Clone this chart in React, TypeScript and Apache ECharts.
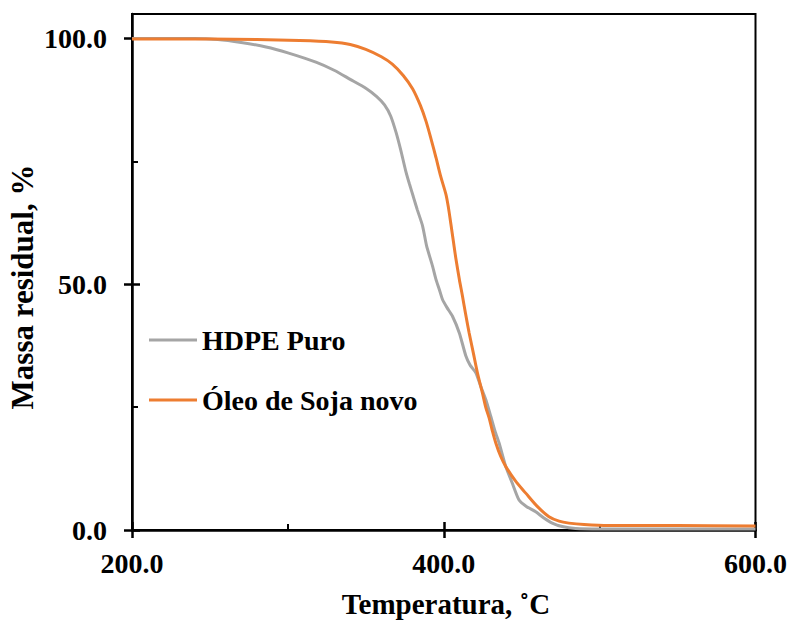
import React, { useEffect, useRef } from "react";
import * as echarts from "echarts";

const hdpeT = [200, 220, 240, 255, 270, 286, 300, 318, 330, 340, 350, 357, 362, 366, 369.5, 372.5, 375.5, 378, 380.5, 383, 386.4, 389, 392.8, 395, 397.1, 399.2, 402, 405.6, 410, 414.2, 417, 420.6, 424, 427, 430.2, 433, 435.5, 439.8, 444, 448.3, 453, 459, 464, 469.6, 476, 484.6, 500, 550, 600];
const hdpeMass = [100, 100, 100, 99.8, 99.2, 98.3, 97.1, 95.2, 93.5, 91.7, 89.9, 88.2, 86.5, 84.2, 80.8, 77.2, 73.2, 70.4, 67.8, 65.2, 61.9, 57.8, 53.7, 51, 49, 46.9, 45.3, 43.5, 40.1, 35.4, 33.5, 32, 29, 26.5, 23.1, 20, 17.7, 12.9, 9.5, 6.1, 4.8, 3.7, 2.5, 1.4, 0.7, 0.3, 0.2, 0.2, 0.2];

const sojaT = [200, 250, 280, 307.5, 328, 340, 350, 360, 367, 374, 380, 385, 388.6, 392, 395, 398, 401.4, 403, 404.6, 406.2, 407.8, 410, 412, 414, 416.3, 419, 421.6, 424.8, 427, 429.1, 431, 433.4, 436.5, 439.8, 446, 452.6, 460, 467.5, 474, 480.3, 490, 505.9, 550, 600];
const sojaMass = [99.9, 99.9, 99.8, 99.6, 99.3, 98.8, 97.8, 96.3, 94.8, 92.5, 89.8, 86.4, 83.2, 79.4, 75.8, 72.0, 68.3, 65.6, 62.2, 58.7, 55.2, 51, 47.6, 44, 40.1, 36, 32, 27.9, 24.9, 22.8, 20.4, 17.7, 15, 12.9, 10, 7.5, 4.8, 2.7, 1.8, 1.4, 1.1, 0.9, 0.9, 0.8];

const seriesNames = ["HDPE Puro", "Óleo de Soja novo"];
const xTitle = "Temperatura, ˚C";
const yTitle = "Massa residual, %";
const xMajor = [200, 400, 600];
const xMinor = [300, 500];
const yMajor = [0, 50, 100];
const yMinor = [25, 75];

const FONT = "'Liberation Serif', 'Times New Roman', serif";

export default function App() {
  const ref = useRef<HTMLDivElement>(null);
  useEffect(() => {
    if (!ref.current) return;
    const chart = echarts.init(ref.current, undefined, { renderer: "svg" });
    const xBase = { type: "value", min: 200, max: 600, gridIndex: 0, position: "bottom", offset: 0, splitLine: { show: false } };
    const yBase = { type: "value", min: 0, max: 105, gridIndex: 0, position: "left", offset: 0, splitLine: { show: false } };
    const hiddenLabel = { show: false };
    const noLine = { show: false };
    chart.setOption({
      animation: false,
      backgroundColor: "#fff",
      grid: { left: 132, right: 33, top: 14, bottom: 90, show: true, borderColor: "#000", borderWidth: 2, backgroundColor: "transparent" },
      xAxis: [
        {
          ...xBase,
          axisLine: { show: true, lineStyle: { color: "#000", width: 2.5 } },
          axisTick: { show: true, inside: false, length: 8, customValues: xMajor, lineStyle: { color: "#000", width: 2.5 } },
          axisLabel: { show: true, customValues: xMajor, margin: 19, formatter: (v: number) => v.toFixed(1), color: "#000", fontFamily: FONT, fontWeight: "bold", fontSize: 28 },
        },
        {
          ...xBase,
          axisLine: noLine,
          axisTick: { show: true, inside: true, length: 8, customValues: xMajor, lineStyle: { color: "#000", width: 2.5 } },
          axisLabel: hiddenLabel,
        },
        {
          ...xBase,
          axisLine: noLine,
          axisTick: { show: true, inside: true, length: 6, customValues: xMinor, lineStyle: { color: "#000", width: 2 } },
          axisLabel: hiddenLabel,
        },
      ],
      yAxis: [
        {
          ...yBase,
          axisLine: { show: true, lineStyle: { color: "#000", width: 2.5 } },
          axisTick: { show: true, inside: false, length: 8, customValues: yMajor, lineStyle: { color: "#000", width: 2.5 } },
          axisLabel: { show: true, customValues: yMajor, margin: 25, formatter: (v: number) => v.toFixed(1), color: "#000", fontFamily: FONT, fontWeight: "bold", fontSize: 28 },
        },
        {
          ...yBase,
          axisLine: noLine,
          axisTick: { show: true, inside: true, length: 8, customValues: yMajor, lineStyle: { color: "#000", width: 2.5 } },
          axisLabel: hiddenLabel,
        },
        {
          ...yBase,
          axisLine: noLine,
          axisTick: { show: true, inside: true, length: 6, customValues: yMinor, lineStyle: { color: "#000", width: 2 } },
          axisLabel: hiddenLabel,
        },
      ],
      legend: {
        orient: "vertical",
        left: 149,
        top: 326,
        padding: 0,
        icon: "rect",
        itemWidth: 48,
        itemHeight: 3,
        itemGap: 32,
        data: seriesNames,
        textStyle: { color: "#000", fontFamily: FONT, fontWeight: "bold", fontSize: 28, lineHeight: 28 },
      },
      series: [
        {
          name: seriesNames[0],
          type: "line",
          xAxisIndex: 0,
          yAxisIndex: 0,
          data: hdpeT.map((t, i) => [t, hdpeMass[i]]),
          symbol: "none",
          smooth: 0.2,
          lineStyle: { color: "#A5A5A5", width: 3 },
          itemStyle: { color: "#A5A5A5" },
        },
        {
          name: seriesNames[1],
          type: "line",
          xAxisIndex: 0,
          yAxisIndex: 0,
          data: sojaT.map((t, i) => [t, sojaMass[i]]),
          symbol: "none",
          smooth: 0.3,
          lineStyle: { color: "#ED7D31", width: 3 },
          itemStyle: { color: "#ED7D31" },
        },
      ],
      graphic: [
        {
          type: "text",
          x: 446,
          y: 604,
          style: { text: xTitle, fill: "#000", font: `bold 29px ${FONT}`, align: "center", verticalAlign: "middle" },
        },
        {
          type: "text",
          x: 22,
          y: 287,
          rotation: Math.PI / 2,
          style: { text: yTitle, fill: "#000", font: `bold 31px ${FONT}`, align: "center", verticalAlign: "middle" },
        },
      ],
    });
    return () => chart.dispose();
  }, []);
  return <div ref={ref} style={{ position: "absolute", left: 0, top: 0, width: 790, height: 620 }} />;
}
